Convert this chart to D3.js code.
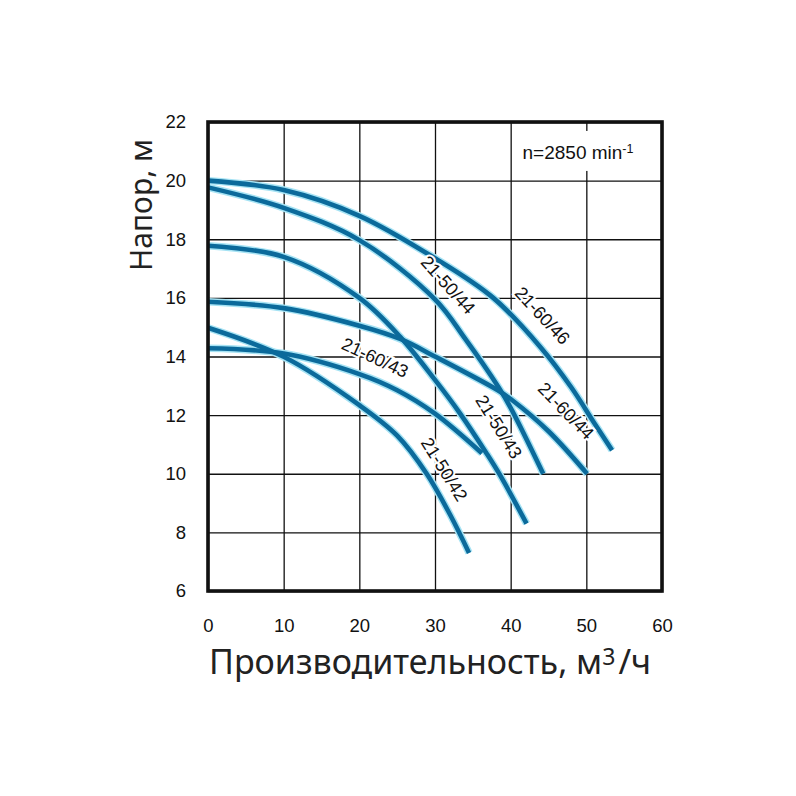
<!DOCTYPE html>
<html>
<head>
<meta charset="utf-8">
<script src="https://cdn.jsdelivr.net/npm/d3@7"></script>
<style>
  body { margin: 0; background: #fff; }
</style>
</head>
<body>
<div id="chart"></div>
<script>
// ticks
const xTicks = [0, 10, 20, 30, 40, 50, 60];
const yTicks = [6, 8, 10, 12, 14, 16, 18, 20, 22];

// pump curves, [Q m3/h, H m]
const curve6046 = [[0, 20.0], [10, 19.68], [20, 18.8], [30, 17.35], [37.7, 16.0], [44, 14.3], [48, 12.95], [51, 11.75], [53.4, 10.8]];
const curve5044 = [[0, 19.77], [10, 19.07], [20, 17.97], [30, 15.95], [34, 14.6], [38.4, 12.95], [40, 12.25], [44.3, 10.0]];
const curve5043 = [[0, 17.78], [10, 17.4], [20, 16.0], [25.4, 14.67], [30, 13.2], [33.3, 12.06], [36.8, 10.7], [38.6, 9.95], [42.1, 8.3]];
const curve6044 = [[0, 15.87], [10, 15.65], [20, 15.05], [25.4, 14.6], [30, 14.0], [38.3, 12.85], [40, 12.55], [45, 11.45], [50.1, 10.0]];
const curve6043 = [[0, 14.28], [10, 14.1], [20, 13.4], [25, 12.85], [30, 12.05], [36.2, 10.7]];
const curve5042 = [[0, 14.98], [10, 13.99], [20, 12.34], [25, 11.3], [28.9, 10.0], [32, 8.6], [34.5, 7.3]];

const curves = [curve6046, curve5044, curve5043, curve6044, curve6043, curve5042];

// curve names and where they sit (Q, H, angle)
const curveNames = ["21-60/46", "21-50/44", "21-50/43", "21-60/44", "21-60/43", "21-50/42"];
const namePos = [[43.4, 15.2, 47], [30.9, 16.25, 48], [37.5, 11.45, 58], [46.5, 11.95, 46], [21.6, 13.7, 25], [30.3, 10.0, 58]];

const margin = {top: 122, right: 134, bottom: 205, left: 208},
    width = 796 - margin.left - margin.right,
    height = 796 - margin.top - margin.bottom;

const x = d3.scaleLinear().domain([0, 60]).range([0, width]);
const y = d3.scaleLinear().domain([6, 22]).range([height, 0]);

const svg = d3.select('#chart')
    .append('svg')
        .attr('width', 796)
        .attr('height', 796)
    .append('g')
        .attr('transform', 'translate(' + margin.left + ',' + margin.top + ')');

const tickFont = '"Liberation Sans", Arial, sans-serif';

// grid + tick labels
const xAxis = svg.append('g')
    .attr('transform', 'translate(0,' + height + ')')
    .call(d3.axisBottom(x).tickValues(xTicks).tickSizeInner(-height).tickSizeOuter(0).tickPadding(28));
const yAxis = svg.append('g')
    .call(d3.axisLeft(y).tickValues(yTicks).tickSizeInner(-width).tickSizeOuter(0).tickPadding(22));

[xAxis, yAxis].forEach(function (a) {
  a.select('.domain').remove();
  a.selectAll('line').attr('stroke', '#111').attr('stroke-width', 1.3);
  a.selectAll('text')
      .attr('fill', '#111')
      .style('font-family', tickFont)
      .style('font-size', '18.5px');
});

// speed note
const note = svg.append('g')
    .attr('transform', 'translate(' + x(48.9) + ',' + y(20.74) + ')');
note.append('rect')
    .attr('x', -64).attr('y', -28).attr('width', 128).attr('height', 40)
    .attr('fill', '#fff');
const noteText = note.append('text')
    .attr('text-anchor', 'middle')
    .attr('fill', '#111')
    .style('font-family', tickFont)
    .style('font-size', '19px');
noteText.append('tspan').text('n=2850 min');
noteText.append('tspan').attr('baseline-shift', '45%').style('font-size', '12.5px').text('-1');

// curves
const line = d3.line()
    .x(function (d) { return x(d[0]); })
    .y(function (d) { return y(d[1]); })
    .curve(d3.curveCatmullRom.alpha(0.5));

svg.selectAll('.glow')
    .data(curves)
    .enter().append('path')
        .attr('class', 'glow')
        .attr('d', line)
        .attr('fill', 'none')
        .attr('stroke', '#a6e3f4')
        .attr('stroke-width', 7.5);

svg.selectAll('.pump')
    .data(curves)
    .enter().append('path')
        .attr('class', 'pump')
        .attr('d', line)
        .attr('fill', 'none')
        .attr('stroke', '#0b6a9b')
        .attr('stroke-width', 4.6);

// curve names, lifted a little off their curve
svg.selectAll('.name')
    .data(curveNames)
    .enter().append('text')
        .attr('class', 'name')
        .attr('transform', function (d, i) {
          const p = namePos[i];
          return 'translate(' + x(p[0]) + ',' + y(p[1]) + ') rotate(' + p[2] + ')';
        })
        .attr('text-anchor', 'middle')
        .attr('dy', '-0.12em')
        .attr('fill', '#111')
        .attr('stroke', '#fff')
        .attr('stroke-width', 4)
        .attr('paint-order', 'stroke')
        .style('font-family', tickFont)
        .style('font-size', '18px')
        .text(function (d) { return d; });

// frame
svg.append('rect')
    .attr('width', width)
    .attr('height', height)
    .attr('fill', 'none')
    .attr('stroke', '#111')
    .attr('stroke-width', 3.6);

// axis titles
const titleFont = '"Noto Sans", "Open Sans", sans-serif';

svg.append('text')
    .attr('transform', 'translate(-56,' + (205 - margin.top) + ') rotate(-90)')
    .attr('text-anchor', 'middle')
    .attr('fill', '#222')
    .style('font-family', titleFont)
    .style('font-size', '30px')
    .text('Напор, м');

const xTitle = svg.append('text')
    .attr('x', 1)
    .attr('y', height + 83)
    .attr('fill', '#222')
    .style('font-family', titleFont)
    .style('font-size', '34px');
xTitle.append('tspan').text('Производительность, м');
xTitle.append('tspan').attr('baseline-shift', '38%').style('font-size', '23px').text('3');
xTitle.append('tspan').attr('dx', 3).text('/ч');
</script>
</body>
</html>
